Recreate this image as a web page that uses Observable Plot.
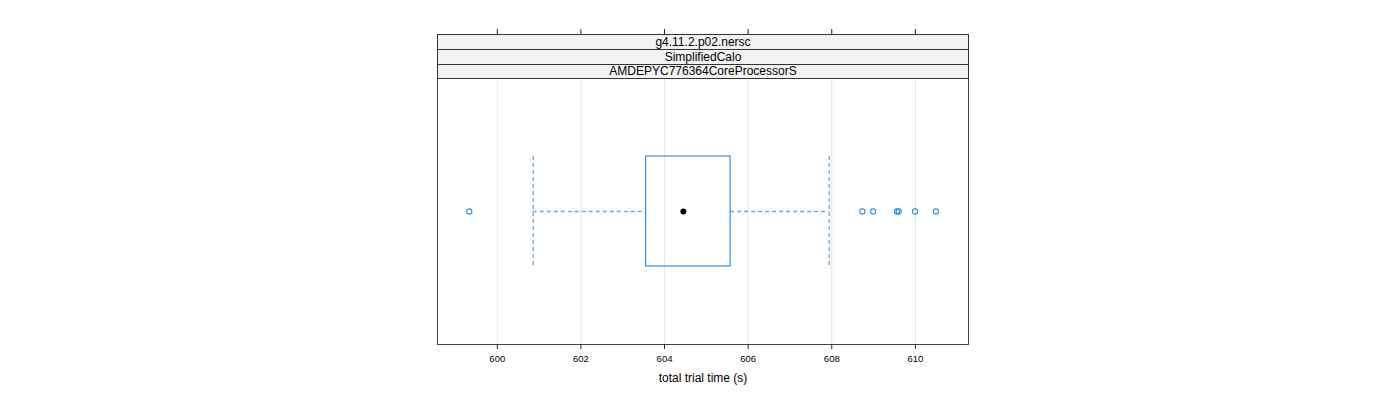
<!DOCTYPE html>
<html>
<head>
<meta charset="utf-8">
<script src="https://cdn.jsdelivr.net/npm/d3@7"></script>
<script src="https://cdn.jsdelivr.net/npm/@observablehq/plot@0.6"></script>
<style>
  html, body { margin: 0; padding: 0; background: #fff; }
  #wrap { position: relative; width: 1400px; height: 400px; font-family: "Liberation Sans", Arial, sans-serif; }
  .strip { position: absolute; box-sizing: border-box; background: #f2f2f2; border: 1px solid #333;
           font-size: 12px; text-align: center; color: #000; display: flex; align-items: center; justify-content: center; }
</style>
</head>
<body>
<div id="wrap"></div>
<script>
// ---- data ----
const stripLabels = ["g4.11.2.p02.nersc", "SimplifiedCalo", "AMDEPYC776364CoreProcessorS"];
const groups = ["AMDEPYC776364CoreProcessorS"];
const q1 = [603.56];
const medians = [604.45];
const q3 = [605.58];
const whiskerLow = [600.86];
const whiskerHigh = [607.94];
const outliers = [599.33, 608.73, 608.99, 609.56, 609.60, 609.99, 610.49];
const xTicks = [600, 602, 604, 606, 608, 610];
const xDomain = [598.57, 611.27];
const xLabel = "total trial time (s)";

const boxes = groups.map((g, i) => ({g, q1: q1[i], med: medians[i], q3: q3[i], lo: whiskerLow[i], hi: whiskerHigh[i]}));
const outs = outliers.map(v => ({g: groups[0], v}));

const boxCol = "#3990d0";
const whiskCol = "#74acd8";

const W = 1400, H = 400;
const mL = 437, mR = W - 968, mT = 78, mB = H - 344;

const chart = Plot.plot({
  width: W,
  height: H,
  marginLeft: mL,
  marginRight: mR,
  marginTop: mT,
  marginBottom: mB,
  style: {fontFamily: "Liberation Sans, Arial, sans-serif", background: "transparent"},
  x: {domain: xDomain, ticks: xTicks},
  y: {type: "band", domain: groups, paddingInner: 0, paddingOuter: 0.7, axis: null},
  marks: [
    Plot.gridX(xTicks, {stroke: "#e6e6e6", strokeOpacity: 1}),
    Plot.ruleY(boxes, {x1: "lo", x2: "q1", y: "g", stroke: whiskCol, strokeDasharray: "4,3", strokeWidth: 1.4}),
    Plot.ruleY(boxes, {x1: "q3", x2: "hi", y: "g", stroke: whiskCol, strokeDasharray: "4,3", strokeWidth: 1.4}),
    Plot.tickX(boxes, {x: "lo", y: "g", stroke: whiskCol, strokeDasharray: "4,3", strokeWidth: 1.4}),
    Plot.tickX(boxes, {x: "hi", y: "g", stroke: whiskCol, strokeDasharray: "4,3", strokeWidth: 1.4}),
    Plot.barX(boxes, {x1: "q1", x2: "q3", y: "g", fill: "none", stroke: boxCol, strokeWidth: 1.2}),
    Plot.dot(boxes, {x: "med", y: "g", r: 3, fill: "#000", stroke: "none"}),
    Plot.dot(outs, {x: "v", y: "g", r: 2.6, fill: "none", stroke: boxCol, strokeWidth: 1.1}),
    Plot.frame({stroke: "#444", strokeWidth: 1}),
    Plot.axisX(xTicks, {anchor: "bottom", tickSize: 5, tickPadding: 6, fontSize: 9.5, label: null, stroke: "#222"}),
    Plot.axisX(xTicks, {anchor: "top", tickSize: 7, tickFormat: () => "", label: null, dy: -43, stroke: "#222"}),
    Plot.text([xLabel], {frameAnchor: "bottom", dy: 37, fontSize: 12, fill: "#000"})
  ]
});

const wrap = document.getElementById("wrap");
wrap.appendChild(chart);
chart.style.position = "absolute";
chart.style.left = "0px";
chart.style.top = "0px";

// strips above the panel
const stripTops = [34, 49, 63.5];
const stripH = 15;
stripLabels.forEach((lab, i) => {
  const d = document.createElement("div");
  d.className = "strip";
  d.textContent = lab;
  d.style.left = mL + "px";
  d.style.width = (W - mR - mL + 1) + "px";
  d.style.top = stripTops[i] + "px";
  d.style.height = (i < stripLabels.length - 1 ? stripH + 0.5 : mT - stripTops[i] + 1) + "px";
  wrap.appendChild(d);
});
</script>
</body>
</html>
